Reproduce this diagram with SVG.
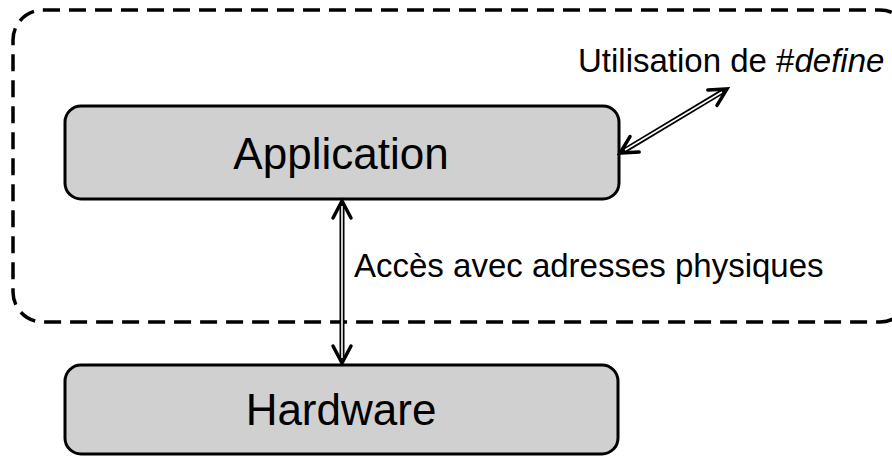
<svg xmlns="http://www.w3.org/2000/svg" width="892" height="457" viewBox="0 0 892 457">
  <style>
    .box { fill: #d0d0d0; stroke: #000; stroke-width: 3; }
    .frame { fill: none; stroke: #000; stroke-width: 3.5; stroke-dasharray: 17 9; }
    .big { font-family: "Liberation Sans", Arial, sans-serif; font-size: 44px; fill: #000; text-anchor: middle; }
    .lbl { font-family: "Liberation Sans", Arial, sans-serif; font-size: 33px; fill: #000; }
    .rail { stroke: #000; stroke-width: 5; fill: none; }
    .core { stroke: #fff; stroke-width: 1.6; fill: none; }
    .head { fill: none; stroke: #000; stroke-width: 3.5; stroke-linecap: round; stroke-linejoin: miter; }
  </style>

  <!-- dashed software boundary -->
  <g id="software-zone">
    <rect class="frame" x="13" y="10" width="897" height="312" rx="30" ry="30"/>
  </g>

  <g id="application">
    <rect class="box" x="65" y="106" width="554" height="93" rx="16" ry="16"/>
    <text class="big" x="341" y="169">Application</text>
  </g>

  <g id="hardware">
    <rect class="box" x="65" y="365" width="553" height="89" rx="16" ry="16"/>
    <text class="big" x="341" y="425">Hardware</text>
  </g>

  <g id="connectors">
    <!-- physical address access -->
    <g id="link-app-hw">
      <line class="rail" x1="342" y1="203" x2="342" y2="361"/>
      <line class="core" x1="342" y1="206" x2="342" y2="358"/>
      <polyline class="head" points="333,218 342,201 351,218"/>
      <polyline class="head" points="333,346 342,363 351,346"/>
    </g>
    <!-- #define usage -->
    <g id="link-define">
      <line class="rail" x1="622" y1="152" x2="725" y2="90"/>
      <line class="core" x1="625" y1="150" x2="722" y2="92"/>
      <polyline class="head" points="639.2,152 620,153 630,136.6"/>
      <polyline class="head" points="717,105.4 727,89 707.8,90"/>
    </g>
  </g>

  <g id="labels">
    <text class="lbl" x="354" y="277">Accès avec adresses physiques</text>
    <text class="lbl" x="578" y="72">Utilisation de #<tspan font-style="italic">define</tspan></text>
  </g>
</svg>
